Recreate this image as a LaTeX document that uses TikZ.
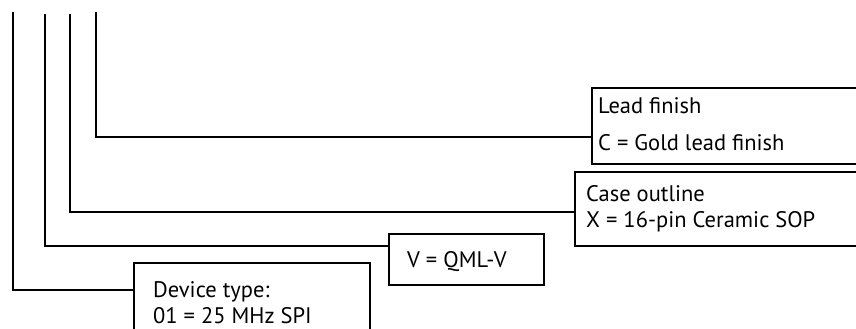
\documentclass[tikz,border=0pt]{standalone}
\usepackage{fontspec}
\setmainfont{PT Sans}
\begin{document}
\begin{tikzpicture}[x=1pt,y=-1pt,
  box/.style={draw=black,line width=2pt,outer sep=0pt,inner sep=0pt,anchor=north west},
  txt/.style={inner sep=0pt,anchor=base west,font=\fontsize{22.5}{26}\selectfont},
  conn/.style={draw=black,line width=2pt}]
\useasboundingbox (0,0) rectangle (856,329);
\clip (0,0) rectangle (856,329);
% boxes
\node[box,minimum width=320,minimum height=76] (lead) at (592,88) {};
\node[box,minimum width=320,minimum height=74] (case) at (575,172) {};
\node[box,minimum width=155,minimum height=51] (qml) at (389,234) {};
\node[box,minimum width=236,minimum height=100] (dev) at (134,263) {};
% texts
\node[txt] (leadA) at (598,113) {Lead finish};
\node[txt] (leadB) at (598,150) {C = Gold lead finish};
\node[txt] (caseA) at (586,201) {Case outline};
\node[txt] (caseB) at (586,227) {X = 16-pin Ceramic SOP};
\node[txt] (qmlA) at (407,267) {V = QML-V};
\node[txt] (devA) at (153,297) {Device type:};
\node[txt] (devB) at (153,323) {01 = 25 MHz SPI};
% connectors
\coordinate (t1) at (13,12);
\coordinate (t2) at (45,14);
\coordinate (t3) at (70,14);
\coordinate (t4) at (96,12);
\coordinate (c1) at (13,290);
\coordinate (c2) at (45,246);
\coordinate (c3) at (70,212);
\coordinate (c4) at (96,137);
\draw[conn] (t1) -- (c1) -- (c1 -| dev.west);
\draw[conn] (t2) -- (c2) -- (c2 -| qml.west);
\draw[conn] (t3) -- (c3) -- (c3 -| case.west);
\draw[conn] (t4) -- (c4) -- (c4 -| lead.west);
\end{tikzpicture}
\end{document}
